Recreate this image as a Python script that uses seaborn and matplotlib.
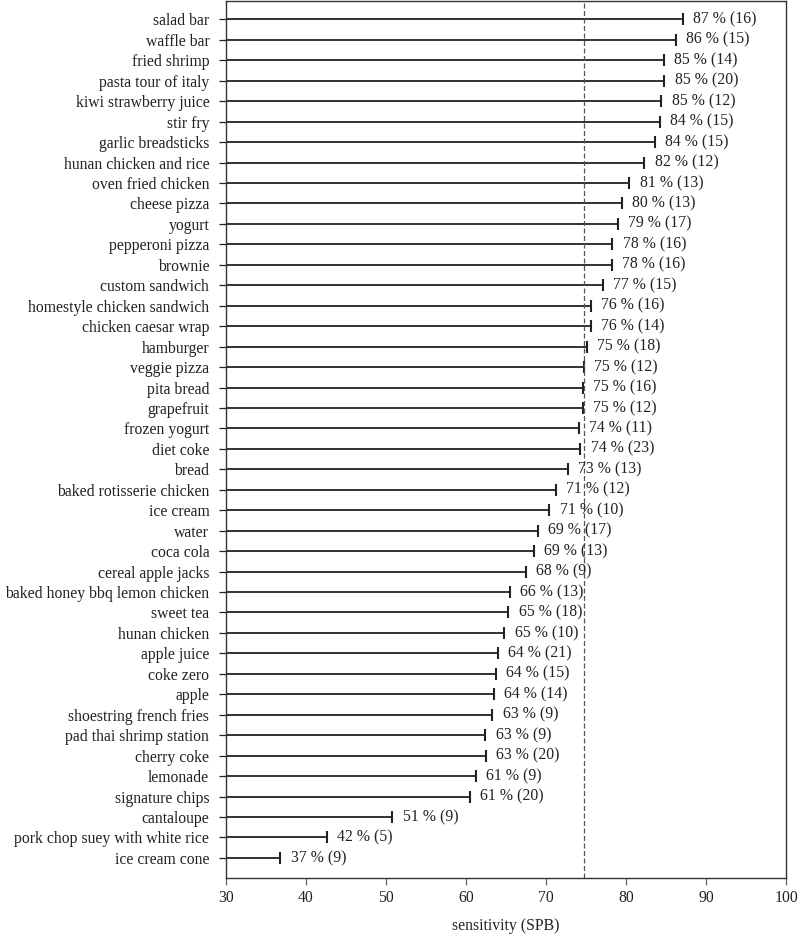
import pandas as pd
import seaborn as sns
import matplotlib.pyplot as plt

foods = ["salad bar", "waffle bar", "fried shrimp", "pasta tour of italy",
         "kiwi strawberry juice", "stir fry", "garlic breadsticks",
         "hunan chicken and rice", "oven fried chicken", "cheese pizza",
         "yogurt", "pepperoni pizza", "brownie", "custom sandwich",
         "homestyle chicken sandwich", "chicken caesar wrap", "hamburger",
         "veggie pizza", "pita bread", "grapefruit", "frozen yogurt",
         "diet coke", "bread", "baked rotisserie chicken", "ice cream",
         "water", "coca cola", "cereal apple jacks",
         "baked honey bbq lemon chicken", "sweet tea", "hunan chicken",
         "apple juice", "coke zero", "apple", "shoestring french fries",
         "pad thai shrimp station", "cherry coke", "lemonade",
         "signature chips", "cantaloupe", "pork chop suey with white rice",
         "ice cream cone"]
sensitivity = [87.1, 86.2, 84.7, 84.8, 84.4, 84.2, 83.6, 82.3, 80.4, 79.5,
               79.0, 78.3, 78.2, 77.1, 75.6, 75.6, 75.1, 74.7, 74.6, 74.6,
               74.1, 74.3, 72.7, 71.2, 70.4, 69.0, 68.5, 67.5, 65.5, 65.3,
               64.8, 64.0, 63.75, 63.5, 63.3, 62.4, 62.5, 61.2, 60.5, 50.8,
               42.6, 36.8]
pct_labels = [87, 86, 85, 85, 85, 84, 84, 82, 81, 80, 79, 78, 78, 77, 76, 76,
              75, 75, 75, 75, 74, 74, 73, 71, 71, 69, 69, 68, 66, 65, 65, 64,
              64, 64, 63, 63, 63, 61, 61, 51, 42, 37]
counts = [16, 15, 14, 20, 12, 15, 15, 12, 13, 13, 17, 16, 16, 15, 16, 14, 18,
          12, 16, 12, 11, 23, 13, 12, 10, 17, 13, 9, 13, 18, 10, 21, 15, 14,
          9, 9, 20, 9, 20, 9, 5, 9]
overall = 74.75

df = pd.DataFrame({"food": foods, "sens": sensitivity})

sns.set_theme(style="ticks")
plt.rcParams["font.family"] = ["Liberation Serif", "DejaVu Serif"]

fig = plt.figure(figsize=(8, 9.38), dpi=100)
ax = fig.add_axes([0.2825, 0.064, 0.7, 0.935])

ax.hlines(range(len(foods)), 30, df["sens"], color="#222222", lw=1.3)
sns.scatterplot(data=df, x="sens", y="food", marker="|", s=70,
                color="#222222", linewidth=1.5, ax=ax, legend=False)
ax.axvline(overall, color="#555555", lw=0.9, ls=(0, (4, 2)))

for i, (v, p, n) in enumerate(zip(sensitivity, pct_labels, counts)):
    ax.text(v + 1.3, i, f"{p} % ({n})", va="center", ha="left",
            fontsize=11.3, color="#222222")

ax.set_xlim(30, 100)
ax.set_ylim(len(foods) - 1 + 0.98, -0.9)
ax.set_xticks(range(30, 101, 10))
ax.set_xlabel("sensitivity (SPB)", fontsize=11.3, color="#222222",
              labelpad=8)
ax.set_ylabel("")
ax.tick_params(axis="both", labelsize=11.3, colors="#222222", length=5,
               width=0.9)
ax.tick_params(axis="y", pad=7)
ax.tick_params(axis="x", pad=4, color="#666666")
for s in ax.spines.values():
    s.set_visible(True)
    s.set_color("#333333")
    s.set_linewidth(1.0)

plt.savefig("out.png", dpi=100)
